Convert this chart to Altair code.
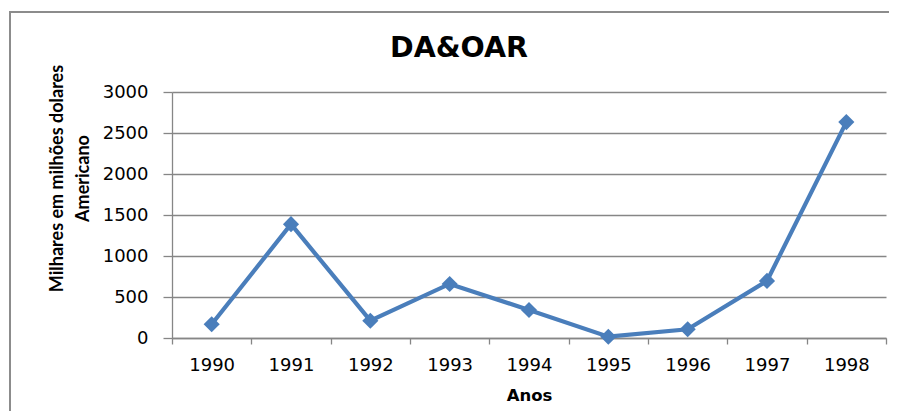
import altair as alt
import pandas as pd

years = ["1990", "1991", "1992", "1993", "1994", "1995", "1996", "1997", "1998"]
values = [167, 1388, 211, 659, 342, 16, 106, 696, 2633]
y_ticks = [0, 500, 1000, 1500, 2000, 2500, 3000]
title_text = "DA&OAR"
y_title = ["Milhares em milhões dolares", "Americano"]
x_title = "Anos"

df = pd.DataFrame({"Ano": years, "Valor": values})
one = pd.DataFrame({"k": [0]})

W, H = 714, 246
GRID = "#868686"
BLUE = "#4A7EBB"

x = alt.X(
    "Ano:O",
    scale=alt.Scale(type="band", paddingInner=0, paddingOuter=0),
    axis=alt.Axis(
        title=x_title, labelAngle=0, tickBand="extent", grid=False,
        domainColor=GRID, tickColor=GRID, tickSize=6, domainWidth=1.3, tickWidth=1.3,
        labelFont="DejaVu Sans", labelFontSize=18, labelColor="#000000", labelPadding=12,
        titleFont="DejaVu Sans", titleFontSize=16.5, titleFontWeight="bold", titleColor="#000000",
        titlePadding=13,
    ),
)
y = alt.Y(
    "Valor:Q",
    scale=alt.Scale(domain=[0, 3000], nice=False),
    axis=alt.Axis(
        title=y_title, values=y_ticks, format="d", grid=True, gridColor=GRID, gridWidth=1.3,
        domainColor=GRID, tickColor=GRID, tickSize=9, domainWidth=1.3, tickWidth=1.3,
        labelFont="DejaVu Sans", labelFontSize=18, labelColor="#000000", labelPadding=15,
        titleFont="Lato", titleFontSize=18, titleFontWeight="bold", titleColor="#000000",
        titleX=-106, titleY=86, titleLineHeight=26,
    ),
)

frame = alt.Chart(one).mark_rect(filled=False, stroke="#8c8c8c", strokeWidth=2).encode(
    x=alt.value(-162), y=alt.value(-80), x2=alt.value(W + 40), y2=alt.value(H + 120)
)

title = alt.Chart(one).mark_text(
    text=title_text, font="DejaVu Sans", fontSize=28.5, fontWeight="bold",
    color="#000000", align="center", baseline="middle",
).encode(x=alt.value(287), y=alt.value(-44))

line = alt.Chart(df).mark_line(color=BLUE, strokeWidth=4.2).encode(x=x, y=y)
pts = alt.Chart(df).mark_point(shape="diamond", filled=True, size=260, opacity=1, color=BLUE).encode(x=x, y=y)

chart = alt.layer(frame, line, pts, title).properties(
    width=W, height=H,
    autosize=alt.AutoSizeParams(type="none"),
    padding={"left": 164, "top": 84, "right": 3, "bottom": 73},
    background="#ffffff",
).configure_view(stroke=None)

chart.save("out.html", embed_options={"renderer": "svg", "actions": False})
